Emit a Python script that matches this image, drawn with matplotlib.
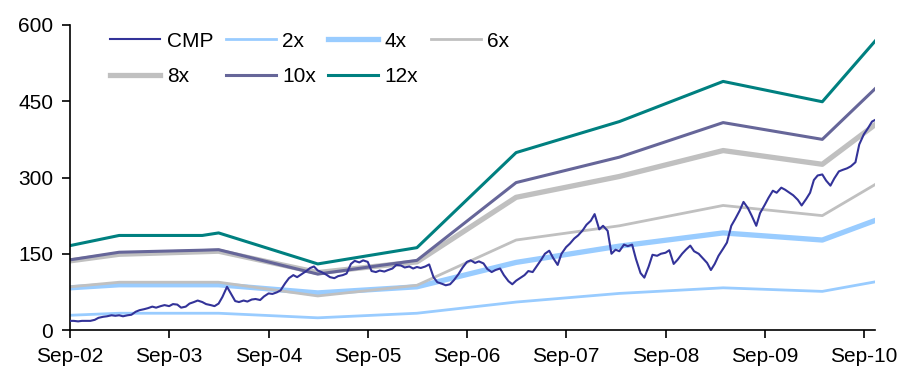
### PE BAND CHART: CMP vs multiples ###

import numpy as np
import pandas as pd
import matplotlib
matplotlib.use('Agg')
import matplotlib.pyplot as plt
import matplotlib.dates as mdates

plt.rcParams['font.family'] = ['Liberation Sans', 'DejaVu Sans']

# share price, semi-monthly from Sep-02
cmp_dates = pd.date_range('2002-09-01', periods=196, freq='SMS')
cmp_vals = [18, 18, 17, 18, 18, 18, 20, 24, 26, 27,
            29, 28, 29, 27, 29, 30, 36, 39, 41, 43,
            46, 44, 47, 49, 47, 51, 50, 44, 46, 52,
            55, 58, 55, 51, 49, 47, 52, 65, 85, 72,
            57, 55, 58, 56, 60, 61, 59, 66, 72, 71,
            74, 78, 92, 102, 108, 104, 110, 115, 122, 125,
            117, 114, 109, 104, 102, 106, 108, 111, 130, 136,
            133, 137, 134, 116, 114, 117, 115, 118, 121, 128,
            127, 123, 125, 121, 124, 122, 125, 129, 104, 94,
            91, 88, 90, 98, 110, 122, 134, 137, 132, 135,
            131, 120, 114, 118, 121, 108, 96, 90, 97, 102,
            108, 116, 114, 125, 138, 150, 156, 142, 128, 150,
            163, 170, 180, 186, 196, 207, 215, 228, 198, 205,
            195, 150, 158, 155, 168, 165, 168, 140, 112, 103,
            125, 148, 146, 150, 152, 157, 130, 138, 150, 158,
            166, 155, 150, 142, 132, 118, 130, 146, 160, 172,
            205, 218, 235, 252, 240, 225, 205, 230, 246, 260,
            274, 270, 280, 276, 270, 265, 256, 245, 258, 270,
            295, 304, 306, 294, 284, 298, 312, 315, 318, 322,
            330, 365, 385, 396, 410, 414]

# PE band lines at the turning points
band_dates = pd.to_datetime(['2002-09-01', '2003-03-01', '2004-01-01', '2004-03-01',
                             '2005-03-01', '2006-03-01', '2007-03-01', '2008-03-15',
                             '2009-04-01', '2010-04-01', '2010-10-15'])
pe2 = [29, 33, 33, 33, 24, 33, 55, 72, 83, 76, 95]
pe4 = [83, 89, 89, 89, 73, 85, 133, 165, 191, 177, 216]
pe6 = [85, 94, 94, 94, 67, 88, 177, 205, 245, 225, 287]
pe8 = [136, 149, 154, 155, 113, 134, 261, 302, 353, 326, 405]
pe10 = [138, 153, 157, 158, 110, 137, 290, 340, 408, 375, 476]
pe12 = [166, 186, 186, 191, 130, 162, 349, 410, 489, 449, 570]

fig = plt.figure(figsize=(9.03, 3.74), dpi=100)
ax = fig.add_axes([0.0775, 0.1176, 0.8915, 0.8156])

l_cmp, = ax.plot(cmp_dates, cmp_vals, color='#333399', lw=1.5, label='CMP', zorder=5)
l2, = ax.plot(band_dates, pe2, color='#99CCFF', lw=2.0, label='2x')
l4, = ax.plot(band_dates, pe4, color='#99CCFF', lw=3.8, label='4x')
l6, = ax.plot(band_dates, pe6, color='#C0C0C0', lw=2.0, label='6x')
l8, = ax.plot(band_dates, pe8, color='#C0C0C0', lw=3.8, label='8x')
l10, = ax.plot(band_dates, pe10, color='#666699', lw=2.2, label='10x')
l12, = ax.plot(band_dates, pe12, color='#008080', lw=2.2, label='12x')

ax.set_ylim(0, 600)
ax.set_yticks([0, 150, 300, 450, 600])
ax.set_xlim(pd.Timestamp('2002-09-01'), pd.Timestamp('2010-10-12'))
ax.xaxis.set_major_locator(mdates.MonthLocator(bymonth=9))
ax.xaxis.set_major_formatter(mdates.DateFormatter('%b-%y'))

for s in ['top', 'right']:
    ax.spines[s].set_visible(False)
for s in ['left', 'bottom']:
    ax.spines[s].set_linewidth(1.2)
ax.tick_params(direction='out', length=6, width=1.2, labelsize=15, pad=6)

# order so the legend reads row by row
hs = [l_cmp, l8, l2, l10, l4, l12, l6]
leg = ax.legend(hs, [h.get_label() for h in hs], ncol=4, loc='upper left',
                bbox_to_anchor=(0.027, 1.04), frameon=False, fontsize=15,
                handlelength=2.4, handletextpad=0.3, columnspacing=0.6,
                labelspacing=0.8)

fig.savefig('out.png', dpi=fig.dpi)
